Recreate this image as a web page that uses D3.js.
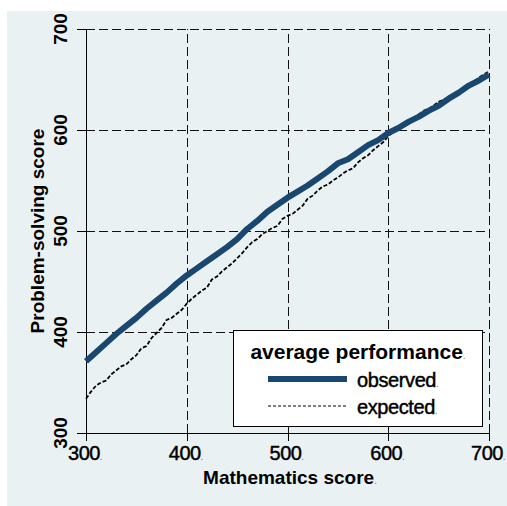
<!DOCTYPE html>
<html>
<head>
<meta charset="utf-8">
<script src="https://cdn.jsdelivr.net/npm/d3@7"></script>
<style>
    body { margin: 0; background: #fff; }
    svg { display: block; font-family: "Liberation Sans", Arial, sans-serif; }
</style>
</head>
<body>
<div id="chart"></div>
<script>
let math_scores = [300, 310, 320, 330, 340, 350, 360, 370, 380, 390, 400, 410, 420, 430, 440, 450, 460, 470, 480, 490,
    500, 510, 520, 530, 540, 550, 560, 570, 580, 590, 600, 610, 620, 630, 640, 650, 660, 670, 680, 690, 700];

let observed = [371, 380, 389, 398, 406, 414, 423, 431, 439, 448, 456, 463, 470, 477, 484, 492, 502, 510, 519, 526,
    533, 539, 545, 552, 559, 567, 571, 578, 585, 590, 597, 602, 608, 613, 619, 624, 631, 637, 644, 649, 655];

let math_scores_exp = [300, 305, 310, 315, 320, 325, 330, 335, 340, 345, 350, 355, 360, 365, 370, 375, 380, 385, 390, 395,
    400, 405, 410, 415, 420, 425, 430, 435, 440, 445, 450, 455, 460, 465, 470, 475, 480, 485, 490, 495,
    500, 505, 510, 515, 520, 525, 530, 535, 540, 545, 550, 555, 560, 565, 570, 575, 580, 585, 590, 595,
    600, 605, 610, 615, 620, 625, 630, 635, 640, 645, 650, 655, 660, 665, 670, 675, 680, 685, 690, 695, 700];

let expected = [334, 341, 347, 350, 352, 358, 362, 366, 368, 373, 377, 384, 386, 394, 399, 404, 412, 414, 418, 422,
    428, 433, 437, 441, 444, 452, 455, 460, 464, 468, 473, 478, 484, 489, 492, 497, 500, 503, 505, 512,
    515, 517, 521, 525, 532, 535, 540, 544, 546, 550, 553, 557, 560, 562, 568, 572, 575, 580, 584, 588,
    594, 598, 601, 605, 609, 612, 615, 619, 621, 624, 628, 630, 633, 636, 639, 642, 646, 648, 652, 655, 658];

let x_ticks = [300, 400, 500, 600, 700];
let y_ticks = [300, 400, 500, 600, 700];
let legend_title = 'average performance';
let series_names = ['observed', 'expected'];

let bg = '#eaf1f3';
let navy = '#1a476f';

function add_dot(t) {
    t.append('tspan')
        .attr('font-size', 10)
        .attr('font-weight', 'normal')
        .attr('stroke', 'none')
        .attr('fill', '#777')
        .text('.');
}

function draw_chart() {
    let width = 507, height = 506;
    let svg = d3.select('#chart')
        .append('svg')
        .attr('width', width)
        .attr('height', height);

    svg.append('rect')
        .attr('x', 7).attr('y', 11)
        .attr('width', 500).attr('height', 495)
        .attr('fill', bg);

    let x = d3.scaleLinear().domain([300, 700]).range([86, 489]);
    let y = d3.scaleLinear().domain([300, 700]).range([433, 29]);

    // grid
    let grid = svg.append('g')
        .attr('stroke', '#111')
        .attr('stroke-width', 1)
        .attr('shape-rendering', 'crispEdges')
        .attr('stroke-dasharray', '9,4');
    grid.selectAll('.vg')
        .data(x_ticks.slice(1))
        .join('line')
        .attr('x1', d => x(d) + 0.5).attr('x2', d => x(d) + 0.5)
        .attr('y1', y(300)).attr('y2', y(700));
    grid.selectAll('.hg')
        .data(y_ticks.slice(1))
        .join('line')
        .attr('class', 'hg')
        .attr('x1', x(300)).attr('x2', x(700))
        .attr('y1', d => y(d) + 0.5).attr('y2', d => y(d) + 0.5);

    // axes
    svg.append('g')
        .attr('transform', `translate(${x(300)},0)`)
        .call(d3.axisLeft(y).tickValues(y_ticks).tickSize(9).tickSizeOuter(0).tickFormat(''));
    svg.append('g')
        .attr('transform', `translate(0,${y(300)})`)
        .call(d3.axisBottom(x).tickValues(x_ticks).tickSize(8).tickSizeOuter(0).tickFormat(''));
    svg.selectAll('.domain, .tick line')
        .attr('stroke', '#000')
        .attr('stroke-width', 1)
        .attr('shape-rendering', 'crispEdges');

    // y tick labels, rotated
    svg.append('g').selectAll('text')
        .data(y_ticks)
        .join('text')
        .attr('transform', d => `translate(67,${y(d)}) rotate(-90)`)
        .attr('text-anchor', 'middle')
        .attr('font-size', 19)
        .attr('font-weight', 'bold')
        .attr('fill', '#000')
        .text(d => d);

    // x tick labels
    let xt = svg.append('g').selectAll('text')
        .data(x_ticks)
        .join('text')
        .attr('x', d => x(d) - 1)
        .attr('y', 460)
        .attr('text-anchor', 'middle')
        .attr('font-size', 20)
        .attr('letter-spacing', -0.6)
        .attr('fill', '#000')
        .attr('stroke', '#000')
        .attr('stroke-width', 0.45);
    xt.append('tspan').text(d => d);
    xt.each(function () { add_dot(d3.select(this)); });

    // axis titles
    let xtitle = svg.append('text')
        .attr('x', 290)
        .attr('y', 484)
        .attr('text-anchor', 'middle')
        .attr('font-size', 19)
        .attr('font-weight', 'bold');
    xtitle.append('tspan').text('Mathematics score');
    add_dot(xtitle);

    svg.append('text')
        .attr('transform', `translate(44,${(y(300) + y(700)) / 2}) rotate(-90)`)
        .attr('text-anchor', 'middle')
        .attr('font-size', 19)
        .attr('font-weight', 'bold')
        .text('Problem-solving score');

    // lines
    let line = d3.line()
        .x(d => x(d[0]))
        .y(d => y(d[1]));

    svg.append('path')
        .datum(math_scores_exp.map((m, i) => [m, expected[i]]))
        .attr('d', line)
        .attr('fill', 'none')
        .attr('stroke', '#000')
        .attr('stroke-width', 1.8)
        .attr('stroke-dasharray', '4,2');

    svg.append('path')
        .datum(math_scores.map((m, i) => [m, observed[i]]))
        .attr('d', line)
        .attr('fill', 'none')
        .attr('stroke', navy)
        .attr('stroke-width', 6)
        .attr('stroke-linejoin', 'round');

    // legend
    let lg = svg.append('g');
    lg.append('rect')
        .attr('x', 233.5).attr('y', 330.5)
        .attr('width', 249).attr('height', 96)
        .attr('fill', '#fff')
        .attr('stroke', '#000')
        .attr('stroke-width', 1);
    let lt = lg.append('text')
        .attr('x', 358)
        .attr('y', 359)
        .attr('text-anchor', 'middle')
        .attr('font-size', 21)
        .attr('font-weight', 'bold');
    lt.append('tspan').text(legend_title);
    add_dot(lt);

    let styles = [{stroke: navy, w: 6, dash: null}, {stroke: '#000', w: 1.2, dash: '3,2'}];
    series_names.forEach((name, i) => {
        let yy = 379 + i * 27;
        lg.append('line')
            .attr('x1', 268).attr('x2', 347)
            .attr('y1', yy).attr('y2', yy)
            .attr('stroke', styles[i].stroke)
            .attr('stroke-width', styles[i].w)
            .attr('stroke-dasharray', styles[i].dash);
        let t = lg.append('text')
            .attr('x', 357)
            .attr('y', yy + 8)
            .attr('font-size', 20)
            .attr('letter-spacing', -0.4)
            .attr('stroke', '#000')
            .attr('stroke-width', 0.45);
        t.append('tspan').text(name);
        add_dot(t);
    });
}

draw_chart();
</script>
</body>
</html>
